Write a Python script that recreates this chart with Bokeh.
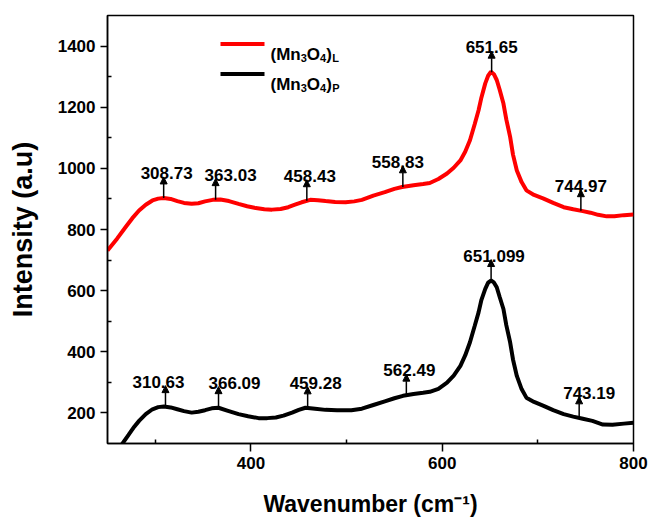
import numpy as np
from bokeh.plotting import figure
from bokeh.models import (Range1d, FixedTicker, Arrow, NormalHead, Label,
                          BoxAnnotation, ColumnDataSource)
from bokeh.core.properties import value
from bokeh.embed import file_html
from bokeh.resources import INLINE

# ---------------- data ----------------
red_x = [250, 260, 269, 276, 283, 290, 297, 303, 309, 316, 323, 330, 338, 345,
         352, 360, 368, 377, 387, 396, 405, 414, 422, 431, 439, 446, 453, 462,
         470, 478, 488, 499, 508, 516, 528, 540, 550, 558, 570, 580, 587, 596,
         605, 612, 619, 624, 629, 634, 638, 641, 645, 648, 651, 654, 657, 660,
         664, 667, 671, 674, 678, 683, 688, 696, 706, 716, 727, 737, 747, 755,
         763, 772, 780, 790, 800]
red_y = [731, 770, 808, 837, 862, 881, 895, 901, 903, 900, 893, 887, 884, 886,
         892, 897, 898, 893, 884, 876, 870, 866, 865, 867, 873, 881, 889, 897,
         896, 893, 890, 889, 892, 897, 911, 922, 933, 939, 945, 949, 952, 965,
         983, 1002, 1026, 1054, 1092, 1145, 1190, 1232, 1278, 1303, 1316, 1308,
         1289, 1258, 1212, 1160, 1103, 1045, 993, 955, 928, 913, 901, 887, 873,
         866, 860, 855, 848, 843, 843, 847, 849]

black_x = [258, 265, 272, 278, 283, 290, 297, 303, 309, 316, 323, 330, 338, 345,
           352, 359, 366, 376, 387, 397, 408, 417, 426, 434, 443, 450, 457, 467,
           478, 490, 505, 516, 528, 540, 550, 559, 570, 580, 587, 596, 605, 612,
           619, 624, 629, 634, 638, 641, 645, 648, 651, 654, 657, 660, 664, 667,
           671, 674, 678, 683, 688, 696, 706, 716, 727, 737, 747, 757, 768, 778,
           790, 800]
black_y = [70, 97, 128, 155, 174, 196, 212, 219, 221, 218, 212, 206, 201, 204,
           209, 215, 217, 207, 196, 189, 183, 183, 185, 191, 201, 210, 217, 214,
           210, 209, 209, 214, 226, 238, 248, 256, 262, 266, 269, 279, 299, 322,
           354, 388, 431, 485, 529, 570, 606, 626, 633, 627, 611, 580, 540, 487,
           431, 375, 321, 278, 250, 236, 223, 209, 196, 188, 181, 174, 162, 161,
           165, 168]

red_peaks = [308.73, 363.03, 458.43, 558.83, 651.65, 744.97]
red_labels = ["308.73", "363.03", "458.43", "558.83", "651.65", "744.97"]
black_peaks = [310.63, 366.09, 459.28, 562.49, 651.099, 743.19]
black_labels = ["310.63", "366.09", "459.28", "562.49", "651.099", "743.19"]

x_major = [400, 600, 800]
x_minor = [300, 500, 700]
y_major = [200, 400, 600, 800, 1000, 1200, 1400]
y_minor = [300, 500, 700, 900, 1100, 1300]

x_title = "Wavenumber (cm\u207b\u00b9)"
y_title = "Intensity (a.u)"

# ---------------- styling ----------------
FONT = "Liberation Sans"
RED = "#ff0000"
ARROW_LEN = 69            # arrow length in y data units (~21 px)
red_dx = [3, 15, 3, -5, 0, 0]      # label horizontal nudges (px)
black_dx = [-7, 16, 8, 3, 3, 10]

p = figure(width=648, height=520, output_backend="svg", toolbar_location=None,
           x_range=Range1d(250, 800), y_range=Range1d(100, 1500),
           min_border_left=107, min_border_right=15, min_border_top=15,
           min_border_bottom=77)
p.grid.visible = False
p.outline_line_color = "black"
p.outline_line_width = 1.5
p.background_fill_color = "white"
p.border_fill_color = "white"

p.line(red_x, red_y, line_color=RED, line_width=4)
p.line(black_x, black_y, line_color="black", line_width=4)

def annotate(px, labels, cx, cy, dx):
    base = np.interp(px, cx, cy)
    tip = base + ARROW_LEN
    for x0, y0, y1 in zip(px, base, tip):
        p.add_layout(Arrow(x_start=x0, y_start=y0, x_end=x0, y_end=y1,
                           line_width=1.5, line_color="black",
                           end=NormalHead(size=7, fill_color="black",
                                          line_color="black", line_width=1)))
    src = ColumnDataSource(dict(x=px, y=tip, t=labels, dx=dx))
    p.text(x="x", y="y", text="t", x_offset="dx", y_offset=-4, source=src,
           text_font=value(FONT), text_font_style="bold",
           text_font_size="17px", text_align="center",
           text_baseline="alphabetic", text_color="black")

annotate(red_peaks, red_labels, red_x, red_y, red_dx)
annotate(black_peaks, black_labels, black_x, black_y, black_dx)

# axes
xa = p.xaxis[0]
xa.ticker = FixedTicker(ticks=x_major, minor_ticks=x_minor)
ya = p.yaxis[0]
ya.ticker = FixedTicker(ticks=y_major, minor_ticks=y_minor)
for ax in (xa, ya):
    ax.axis_line_width = 1.5
    ax.major_tick_line_width = 1.5
    ax.minor_tick_line_width = 1.5
    ax.major_tick_in = 0
    ax.minor_tick_out = 0
    ax.minor_tick_in = 4
    ax.major_label_text_font = FONT
    ax.major_label_text_font_style = "bold"
    ax.major_label_text_font_size = "17px"
    ax.major_label_text_color = "black"
    ax.axis_label_text_font = FONT
    ax.axis_label_text_font_style = "bold"
    ax.axis_label_text_color = "black"
xa.major_tick_out = 8
ya.major_tick_out = 7
xa.major_label_standoff = 5
ya.major_label_standoff = 5
ya.axis_label = y_title
ya.axis_label_text_font_size = "27px"
ya.axis_label_standoff = 17
xa.axis_label = x_title
xa.axis_label_text_font_size = "23px"
xa.axis_label_standoff = 19

# legend (manual)
def lab(x, y, t, size, align="left"):
    p.add_layout(Label(x=x, y=y, x_units="screen", y_units="screen", text=t,
                       text_font=FONT, text_font_style="bold",
                       text_font_size=size, text_align=align,
                       text_baseline="alphabetic", text_color="black"))

M = 17
S = 11
def legend_row(yb, color, sub):
    p.add_layout(BoxAnnotation(left=113, right=157, bottom=yb + 8, top=yb + 12,
                               left_units="screen", right_units="screen",
                               top_units="screen", bottom_units="screen",
                               fill_color=color, fill_alpha=1.0,
                               line_color=None))
    x = 163
    lab(x, yb, "(Mn", f"{M}px"); x += (0.333 + 0.833 + 0.611) * M
    lab(x, yb - 3.5, "3", f"{S}px"); x += 0.556 * S
    lab(x, yb, "O", f"{M}px"); x += 0.778 * M
    lab(x, yb - 3.5, "4", f"{S}px"); x += 0.556 * S
    lab(x, yb, ")", f"{M}px"); x += 0.333 * M + 0.5
    lab(x, yb - 3.5, sub, f"{S}px")

legend_row(389.5, RED, "L")
legend_row(359.5, "black", "P")

open("out.html", "w").write(file_html(p, INLINE))
